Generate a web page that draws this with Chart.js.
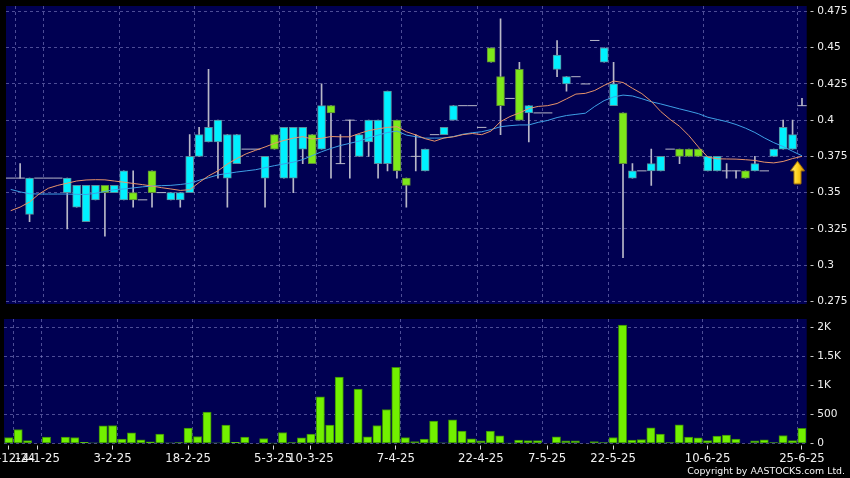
<!DOCTYPE html>
<html>
<head>
<meta charset="utf-8">
<script src="https://cdn.jsdelivr.net/npm/chart.js@4.4.1/dist/chart.umd.min.js"></script>
<style>
  html, body { margin: 0; padding: 0; background: #000; }
  body { width: 850px; height: 478px; position: relative; overflow: hidden; }
  canvas { position: absolute; left: 0; }
  #price { top: 0; }
  #volume { top: 310px; }
  #copy { position: absolute; right: 5px; top: 465px; color: #f4f4f4; font: 9.4px "DejaVu Sans"; white-space: nowrap; }
</style>
</head>
<body>
<canvas id="price" width="850" height="310"></canvas>
<canvas id="volume" width="850" height="168"></canvas>
<div id="copy">Copyright by AASTOCKS.com Ltd.</div>
<script>
// daily candles, one slot per trading day shown
const opens = [0.36,0.36,0.335,0.36,0.36,0.36,0.35,0.34,0.33,0.345, 0.355,0.35,0.345,0.35,0.345,0.365,0.35,0.345,0.345,0.35,
  0.375,0.385,0.385,0.36,0.37,0.38,0.38,0.36,0.39,0.36, 0.36,0.38,0.39,0.38,0.41,0.37,0.40,0.375,0.385,0.37,
  0.37,0.40,0.36,0.375,0.365,0.39,0.39,0.40,0.41,0.41, 0.395,0.45,0.43,0.415,0.435,0.405,0.405,0.405,0.435,0.425,
  0.43,0.425,0.455,0.44,0.41,0.405,0.36,0.365,0.365,0.365, 0.38,0.38,0.38,0.38,0.365,0.365,0.365,0.365,0.365,0.365,
  0.365,0.375,0.38,0.38,0.41];
const highs = [0.36,0.37,0.36,0.36,0.36,0.36,0.36,0.355,0.355,0.355, 0.355,0.355,0.365,0.365,0.345,0.365,0.35,0.35,0.35,0.39,
  0.395,0.435,0.40,0.39,0.39,0.38,0.38,0.375,0.39,0.395, 0.395,0.395,0.39,0.425,0.41,0.39,0.40,0.39,0.40,0.40,
  0.42,0.40,0.36,0.39,0.38,0.39,0.395,0.41,0.41,0.41, 0.395,0.45,0.47,0.415,0.44,0.41,0.405,0.405,0.455,0.43,
  0.43,0.425,0.455,0.45,0.44,0.405,0.37,0.365,0.38,0.375, 0.38,0.38,0.38,0.38,0.375,0.375,0.37,0.365,0.365,0.375,
  0.365,0.38,0.40,0.40,0.415];
const lows = [0.36,0.36,0.33,0.36,0.36,0.36,0.325,0.34,0.33,0.345, 0.32,0.35,0.345,0.34,0.345,0.34,0.35,0.345,0.34,0.35,
  0.375,0.385,0.36,0.34,0.37,0.38,0.38,0.34,0.38,0.36, 0.35,0.37,0.37,0.38,0.36,0.37,0.36,0.375,0.375,0.36,
  0.365,0.36,0.34,0.365,0.365,0.39,0.39,0.40,0.41,0.41, 0.395,0.44,0.39,0.415,0.40,0.385,0.405,0.405,0.43,0.42,
  0.43,0.425,0.455,0.44,0.41,0.305,0.36,0.365,0.355,0.365, 0.38,0.37,0.375,0.375,0.365,0.365,0.36,0.36,0.36,0.365,
  0.365,0.375,0.38,0.38,0.41];
const closes = [0.36,0.36,0.36,0.36,0.36,0.36,0.36,0.355,0.355,0.355, 0.35,0.355,0.365,0.345,0.345,0.35,0.35,0.35,0.35,0.375,
  0.39,0.395,0.40,0.39,0.39,0.38,0.38,0.375,0.38,0.395, 0.395,0.395,0.37,0.41,0.405,0.37,0.40,0.39,0.40,0.40,
  0.42,0.365,0.355,0.375,0.38,0.39,0.395,0.41,0.41,0.41, 0.395,0.44,0.41,0.415,0.40,0.41,0.405,0.405,0.445,0.43,
  0.43,0.425,0.455,0.45,0.425,0.37,0.365,0.365,0.37,0.375, 0.38,0.375,0.375,0.375,0.375,0.375,0.365,0.365,0.36,0.37,
  0.365,0.38,0.395,0.39,0.41];
const volumes = [103,241,52,0,109,0,109,103,22,10, 303,310,74,183,62,28,160,10,15,264,
  121,540,10,316,22,109,0,86,5,190, 15,97,160,803,316,1143,0,936,114,310,
  586,1310,103,34,74,385,10,407,212,80, 45,212,132,5,57,52,52,0,114,45,
  45,0,34,17,103,2040,57,69,269,160, 17,321,109,97,52,126,143,74,0,45,
  62,17,138,52,259];
const ma10 = [0.3375,0.340,0.3435,0.349,0.353,0.355,0.3565,0.358,0.3587,0.3589, 0.3588,0.358,0.3572,0.3563,0.3555,0.3545,0.3534,0.3525,0.3515,0.352,
  0.357,0.3615,0.365,0.3697,0.3735,0.3768,0.3792,0.3815,0.384,0.386, 0.3876,0.3886,0.387,0.3875,0.3887,0.3885,0.3885,0.3908,0.3928,0.394,
  0.395,0.3955,0.392,0.3898,0.3872,0.3855,0.3877,0.3885,0.390,0.3908, 0.390,0.3925,0.399,0.4025,0.405,0.408,0.4095,0.410,0.4115,0.4147,
  0.418,0.4185,0.4205,0.424,0.427,0.426,0.422,0.4183,0.413,0.406, 0.4005,0.3958,0.3893,0.3815,0.3745,0.3733,0.3732,0.3731,0.3727,0.3722,
  0.371,0.3705,0.3715,0.3735,0.375];
const ma20 = [0.3522,0.3505,0.3492,0.349,0.349,0.349,0.349,0.3488,0.3487,0.3495, 0.3508,0.352,0.3525,0.3532,0.354,0.3545,0.3548,0.355,0.3556,0.3564,
  0.3585,0.3603,0.3622,0.3632,0.3642,0.365,0.3658,0.3672,0.3686,0.3698, 0.371,0.3728,0.3755,0.3782,0.3805,0.3825,0.384,0.3856,0.3878,0.3897,
  0.3915,0.3925,0.3897,0.3886,0.3876,0.3876,0.3877,0.3887,0.3903,0.3913, 0.392,0.3935,0.3955,0.3962,0.3967,0.3967,0.3985,0.3998,0.4018,0.4032,
  0.404,0.4048,0.4095,0.4135,0.416,0.4173,0.4167,0.4148,0.4127,0.4112, 0.4095,0.4078,0.4062,0.4045,0.402,0.4005,0.399,0.397,0.3945,0.3915,
  0.3878,0.3845,0.3818,0.3785,0.3754];

// x axis: labelled slots, and the slots whose right edge carries a grid line
const tickSlots = [0, 3, 11, 19, 28, 32, 41, 50, 57, 64, 74, 84];
const dateLabels = ['30-12-24','14-1-25','3-2-25','18-2-25','5-3-25','10-3-25','7-4-25','22-4-25','7-5-25','22-5-25','10-6-25','25-6-25'];
const gridSlots = [0, 3, 11, 19, 28, 32, 41, 49, 56, 63, 73, 83];
const priceTicks = [0.275, 0.3, 0.325, 0.35, 0.375, 0.4, 0.425, 0.45, 0.475];
const volTicks = [0, 500, 1000, 1500, 2000];
const volTickLabels = ['0', '500', '1K', '1.5K', '2K'];

const FONT = 'DejaVu Sans';
const NAVY = '#000052';
const GRID = 'rgba(140,140,205,0.55)';
const TXT = '#f0f0f0';
const CYAN = '#00f0ff', CYAN_EDGE = '#5a8c9c';
const GREEN = '#7ee81a', GREEN_EDGE = '#5e8a3a';
const WICK = '#b8b8c8';

const slotLabels = closes.map(() => '');
tickSlots.forEach((s, k) => { slotLabels[s] = dateLabels[k]; });

Chart.defaults.font.family = FONT;

const plotBg = {
  id: 'plotBg',
  beforeDraw(chart) {
    const { ctx, chartArea: a } = chart;
    ctx.save();
    ctx.fillStyle = NAVY;
    ctx.fillRect(a.left, a.top, a.right - a.left, a.bottom - a.top);
    ctx.restore();
  }
};

function gridAxis() {
  return {
    offset: true,
    grid: {
      offset: true,
      drawTicks: false,
      color: ctx => gridSlots.includes(ctx.index - 1) ? GRID : 'rgba(0,0,0,0)'
    },
    border: { display: false, dash: [3, 3] },
    ticks: { display: false, autoSkip: false },
    afterFit: s => { s.height = 0; s.paddingLeft = 0; s.paddingRight = 0; }
  };
}

function valueAxis(min, max, ticks, fmt) {
  return {
    position: 'right',
    min: min,
    max: max,
    afterBuildTicks: s => { s.ticks = ticks.map(v => ({ value: v })); },
    afterFit: s => { s.width = 43.3; s.paddingTop = 0; s.paddingBottom = 0; },
    grid: { color: GRID, tickLength: 7, tickColor: '#c8c8c8', tickBorderDash: [0, 3.5, 3, 20] },
    border: { display: false, dash: [3, 3] },
    ticks: { color: TXT, padding: 3.5, font: { size: 10.6 }, callback: fmt }
  };
}

function makeArrow() {
  const c = document.createElement('canvas');
  c.width = 24; c.height = 60;
  const g = c.getContext('2d');
  const grad = g.createLinearGradient(0, 0, 15, 0);
  grad.addColorStop(0, '#fff38a');
  grad.addColorStop(0.5, '#ffd21e');
  grad.addColorStop(1, '#d99a00');
  g.beginPath();
  g.moveTo(7.5, 35.5); g.lineTo(14.5, 45); g.lineTo(11, 45); g.lineTo(11, 58); g.lineTo(4, 58);
  g.lineTo(4, 45); g.lineTo(0.5, 45); g.closePath();
  g.fillStyle = grad; g.fill();
  g.strokeStyle = '#b07a00'; g.lineWidth = 1; g.stroke();
  return c;
}

const up = opens.map((o, i) => closes[i] > o);
const arrowData = closes.map((_, i) => i === closes.length - 1 ? ma20[i] : null);

new Chart(document.getElementById('price'), {
  type: 'bar',
  data: {
    labels: slotLabels,
    datasets: [
      { type: 'line', data: arrowData, showLine: false, pointStyle: makeArrow(), pointRadius: 5, order: -1 },
      { type: 'line', data: ma10, borderColor: '#e8946a', borderWidth: 1, pointRadius: 0, order: 0 },
      { type: 'line', data: ma20, borderColor: '#3ea0e6', borderWidth: 1, pointRadius: 0, order: 0 },
      { type: 'line', data: closes.map((c, i) => c === opens[i] ? c : null), showLine: false,
        pointStyle: 'line', pointRadius: 4.72, borderColor: WICK, borderWidth: 1, order: 1 },
      { data: opens.map((o, i) => o === closes[i] ? null : [Math.min(o, closes[i]), Math.max(o, closes[i])]),
        backgroundColor: up.map(u => u ? CYAN : GREEN), borderColor: up.map(u => u ? CYAN_EDGE : GREEN_EDGE),
        borderWidth: 1, borderSkipped: false, barThickness: 8, grouped: false, order: 2 },
      { data: highs.map((h, i) => h > lows[i] ? [lows[i], h] : null), backgroundColor: WICK,
        barThickness: 1, grouped: false, order: 3 }
    ]
  },
  options: {
    responsive: false,
    animation: false,
    devicePixelRatio: 1,
    layout: { padding: { left: 4, right: 0, top: 5.5, bottom: 5 } },
    plugins: { legend: { display: false }, tooltip: { enabled: false } },
    scales: {
      x: gridAxis(),
      y: valueAxis(0.2731, 0.4788, priceTicks, v => String(+v.toFixed(3)))
    }
  },
  plugins: [plotBg]
});

new Chart(document.getElementById('volume'), {
  type: 'bar',
  data: {
    labels: slotLabels,
    datasets: [
      { data: volumes, backgroundColor: '#72f000', borderColor: '#3a8a08', borderWidth: 1,
        borderSkipped: false, barThickness: 8.3, xAxisID: 'x' }
    ]
  },
  options: {
    responsive: false,
    animation: false,
    devicePixelRatio: 1,
    layout: { padding: { left: 4, right: 0, top: 9, bottom: 0 } },
    plugins: { legend: { display: false }, tooltip: { enabled: false } },
    scales: {
      x: gridAxis(),
      xl: {
        type: 'category',
        position: 'bottom',
        offset: true,
        grid: {
          drawOnChartArea: false,
          offset: false,
          tickLength: 6,
          tickColor: ctx => slotLabels[ctx.index] ? '#d8d8d8' : 'rgba(0,0,0,0)',
          tickBorderDash: [0, 1.5, 4.5, 20]
        },
        border: { display: false },
        ticks: { autoSkip: false, maxRotation: 0, minRotation: 0, padding: 2, color: TXT, font: { size: 11.7 } },
        afterFit: s => { s.height = 34.5; s.paddingLeft = 0; s.paddingRight = 0; }
      },
      y: valueAxis(0, 2143, volTicks, v => volTickLabels[volTicks.indexOf(v)])
    }
  },
  plugins: [plotBg]
});
</script>
</body>
</html>
